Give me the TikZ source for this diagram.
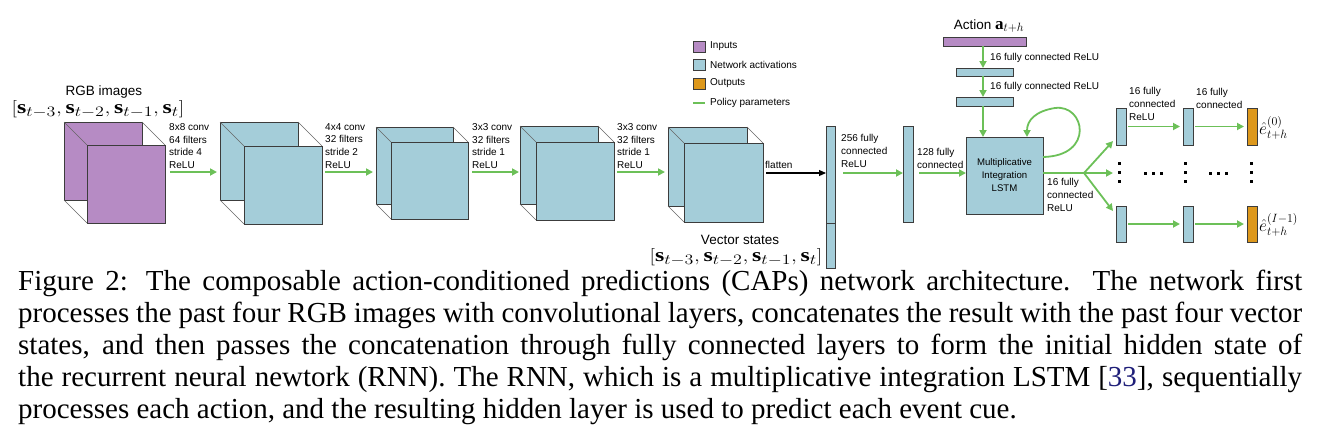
\documentclass[tikz,border=0pt]{standalone}
\usepackage{graphicx}
\usepackage{fontspec}
\setmainfont{Liberation Serif}
\newfontfamily\lab{Liberation Sans}
\usetikzlibrary{arrows.meta,calc}
\definecolor{inpc}{RGB}{182,139,196}
\definecolor{actc}{RGB}{164,205,217}
\definecolor{outc}{RGB}{221,152,28}
\definecolor{grn}{RGB}{108,192,88}
\definecolor{edg}{RGB}{60,60,60}
\definecolor{citec}{RGB}{30,30,120}
\tikzset{
  face/.style={draw=edg, line width=0.9pt, inner sep=0pt, outer sep=0pt},
  thinl/.style={draw=black!60, line width=0.5pt},
  garrow/.style={draw=grn, line width=1.8pt, -{Triangle[length=7pt,width=7pt]}},
  gline/.style={draw=grn, line width=1.8pt},
  barrow/.style={draw=black, line width=1.1pt, -{Triangle[length=7pt,width=6pt]}},
  lbl/.style={font=\lab\fontsize{10}{12.9}\selectfont, align=left, anchor=north west, inner sep=0pt},
  dotm/.style={fill=black, inner sep=0pt, minimum size=3pt, draw=none},
  mathlbl/.style={font=\fontsize{19}{21}\selectfont, inner sep=0pt}
}
\newcommand\rbox[6]{\node[#2, minimum width={((#5)-(#3))*1pt}, minimum height={((#6)-(#4))*1pt}] (#1) at ({((#3)+(#5))/2},{((#4)+(#6))/2}) {};}
\newcommand\cubeat[6]{%
  \rbox{#1b}{face,fill=#6}{#2}{#3}{#2+#4}{#3+#4}
  \draw[thinl] (#1b.north west) -- ++(#5,#5);
  \draw[thinl] (#1b.north east) -- ++(#5,#5);
  \draw[thinl] (#1b.south west) -- ++(#5,#5);
  \rbox{#1}{face,fill=#6}{#2+#5}{#3+#5}{#2+#4+#5}{#3+#4+#5}
}
\newcommand\svec{\scalebox{1.25}[1]{$\left[\mathbf{s}_{t-3},\mathbf{s}_{t-2},\mathbf{s}_{t-1},\mathbf{s}_{t}\right]$}}
\begin{document}
\begin{tikzpicture}[x=1pt,y=-1pt]
\useasboundingbox (0,0) rectangle (1317,440);

% RGB images
\node[font=\lab\fontsize{13.5}{15}\selectfont, inner sep=0pt] (rgbt) at (104,92) {RGB images};
\node[mathlbl] (rgbm) at (98,109) {\svec};

% cubes
\cubeat{c1}{64}{122}{78}{23}{inpc}
\cubeat{c2}{220}{122}{78}{24}{actc}
\cubeat{c3}{376}{127}{77}{15}{actc}
\cubeat{c4}{520}{126}{78}{16}{actc}
\cubeat{c5}{668}{127}{79}{16}{actc}

% conv labels and arrows
\node[lbl] (l1) at (169,123) {8x8 conv\\64 filters\\stride 4\\ReLU};
\node[lbl] (l2) at (325,123) {4x4 conv\\32 filters\\stride 2\\ReLU};
\node[lbl] (l3) at (472,123) {3x3 conv\\32 filters\\stride 1\\ReLU};
\node[lbl] (l4) at (617,123) {3x3 conv\\32 filters\\stride 1\\ReLU};
\coordinate (a1s) at (170,172); \coordinate (a1e) at (217,172);
\coordinate (a2s) at (325,172); \coordinate (a2e) at (373,172);
\coordinate (a3s) at (472,172); \coordinate (a3e) at (519,172);
\coordinate (a4s) at (617,172); \coordinate (a4e) at (665,172);
\draw[garrow] (a1s) -- (a1e);
\draw[garrow] (a2s) -- (a2e);
\draw[garrow] (a3s) -- (a3e);
\draw[garrow] (a4s) -- (a4e);

% flatten
\node[lbl] (lf) at (765,161) {flatten};
\rbox{bar1}{face,fill=actc}{826}{126}{835}{223}
\rbox{bar1b}{face,fill=actc}{826}{223}{835}{268}
\coordinate (fs) at (766,173);
\draw[barrow] (fs) -- (fs -| bar1.west);

% vector states
\node[font=\lab\fontsize{13.5}{15}\selectfont, inner sep=0pt] (vst) at (740,240) {Vector states};
\node[mathlbl] (vsm) at (736,257) {\svec};

% fc layers
\node[lbl] (l256) at (841,134) {256 fully\\connected\\ReLU};
\rbox{bar2}{face,fill=actc}{903}{126}{913}{222}
\coordinate (s256) at (843,173);
\draw[garrow] (s256) -- (s256 -| bar2.west);
\node[lbl] (l128) at (917,148) {128 fully\\connected};

% LSTM
\rbox{lstm}{face,fill=actc}{966}{137}{1043}{214}
\node[font=\lab\fontsize{9.6}{13}\selectfont, align=center, inner sep=0pt] (lstmt) at (1004.5,175) {Multiplicative\\Integration\\LSTM};
\coordinate (s128) at (919,173);
\draw[garrow] (s128) -- (s128 -| lstm.west);

% action branch
\node[inner sep=0pt] (actt) at (989,26) {\lab\fontsize{13.5}{15}\selectfont Action \fontsize{17}{19}\selectfont$\mathbf{a}_{t+h}$};
\rbox{act}{face,fill=inpc}{943}{37}{1026}{46}
\rbox{ab1}{face,fill=actc}{956}{68}{1013}{76}
\rbox{ab2}{face,fill=actc}{956}{97}{1013}{106}
\coordinate (ax) at (983,46);
\draw[garrow] (ax) -- (ax |- ab1.north);
\draw[garrow] (ax |- ab1.south) -- (ax |- ab2.north);
\draw[garrow] (ax |- ab2.south) -- (ax |- lstm.north);
\node[lbl] (la1) at (990,53) {16 fully connected ReLU};
\node[lbl] (la2) at (990,82) {16 fully connected ReLU};

% loop
\draw[garrow] ([yshift=-20pt]lstm.north east) .. controls (1095,156) and (1085,104) .. (1055,108) .. controls (1036,111) and (1027,120) .. ([xshift=-16pt]lstm.north east);

% outputs
\rbox{o1a}{face,fill=actc}{1116}{108}{1126}{145}
\rbox{o2a}{face,fill=actc}{1183}{108}{1193}{145}
\rbox{o3a}{face,fill=outc}{1247}{108}{1257}{145}
\rbox{o1b}{face,fill=actc}{1116}{206}{1126}{242}
\rbox{o2b}{face,fill=actc}{1183}{206}{1193}{242}
\rbox{o3b}{face,fill=outc}{1247}{206}{1257}{242}
\coordinate (br) at (1084,173);
\coordinate (eu) at (1113,141);
\coordinate (em) at (1113,173);
\coordinate (ed) at (1113,211);
\draw[gline] (br -| lstm.east) -- (br);
\draw[garrow] (br) -- (eu);
\draw[garrow] (br) -- (em);
\draw[garrow] (br) -- (ed);
\node[lbl] (lo) at (1047,178) {16 fully\\connected\\ReLU};
\draw[garrow] ([xshift=2pt]o1a.east) -- ([xshift=-3pt]o2a.west);
\draw[garrow] ([xshift=2pt]o2a.east) -- ([xshift=-3pt]o3a.west);
\draw[garrow] ([xshift=2pt]o1b.east) -- ([xshift=-3pt]o2b.west);
\draw[garrow] ([xshift=2pt]o2b.east) -- ([xshift=-3pt]o3b.west);
\node[lbl] (lo1) at (1129,87) {16 fully\\connected\\ReLU};
\node[lbl] (lo2) at (1196,88) {16 fully\\connected};
\node[font=\fontsize{18}{20}\selectfont, anchor=west, inner sep=0pt] (e0) at (1259,128) {$\hat{e}^{(0)}_{t+h}$};
\node[font=\fontsize{18}{20}\selectfont, anchor=west, inner sep=0pt] (e1) at (1259,225) {$\hat{e}^{(I-1)}_{t+h}$};

% dots
\foreach \xx/\nn in {1119/a,1185/b,1251/c}{
  \node[dotm] (vd\nn1) at (\xx,163) {};
  \node[dotm] (vd\nn2) at (\xx,172) {};
  \node[dotm] (vd\nn3) at (\xx,181) {};
}
\foreach \xx/\nn in {1145/a,1153/b,1161/c,1210/d,1218/e,1226/f}{
  \node[dotm] (hd\nn) at (\xx,173) {};
}

% legend
\rbox{lg1}{face,fill=inpc}{693}{41}{705}{52}
\rbox{lg2}{face,fill=actc}{693}{59}{705}{70}
\rbox{lg3}{face,fill=outc}{693}{78}{705}{89}
\coordinate (lg4a) at (693,103); \coordinate (lg4b) at (705,103);
\draw[gline, line width=2.2pt] (lg4a) -- (lg4b);
\node[lbl, anchor=west] (lgt1) at (710,46.5) {Inputs};
\node[lbl, anchor=west] (lgt2) at (710,64.5) {Network activations};
\node[lbl, anchor=west] (lgt3) at (710,83.5) {Outputs};
\node[lbl, anchor=west] (lgt4) at (710,103) {Policy parameters};

% caption
\node[anchor=north west, inner sep=0pt, text width=1284pt, align=justify, font=\fontsize{29}{32}\selectfont] (cap) at (18,270) {Figure 2: The composable action-conditioned predictions (CAPs) network architecture. The network first\linebreak processes the past four RGB images with convolutional layers, concatenates the result with the past four vector\linebreak states, and then passes the concatenation through fully connected layers to form the initial hidden state of\linebreak the recurrent neural newtork (RNN). The RNN, which is a multiplicative integration LSTM [\textcolor{citec}{33}], sequentially\linebreak processes each action, and the resulting hidden layer is used to predict each event cue.};
\end{tikzpicture}
\end{document}
